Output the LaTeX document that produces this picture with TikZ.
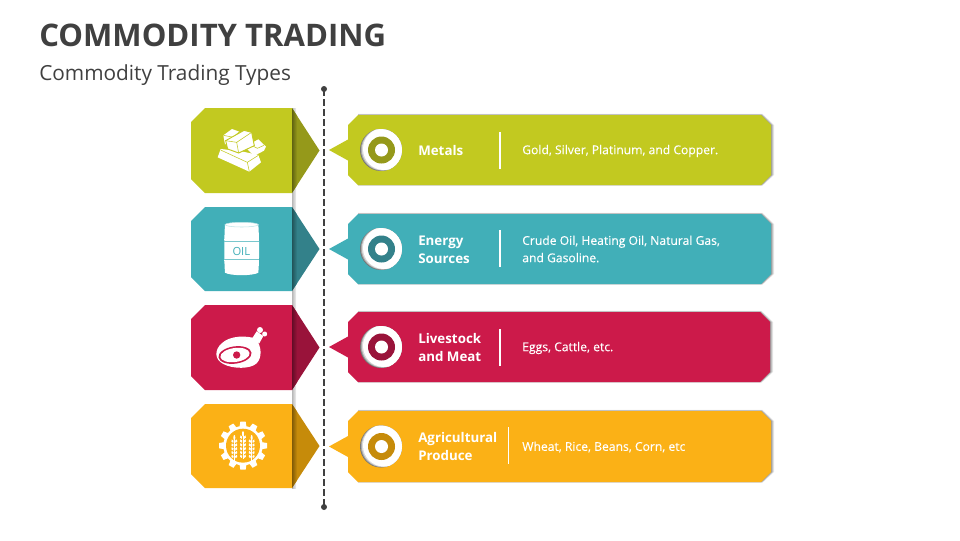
\documentclass[tikz,border=0pt]{standalone}
\usepackage{fontspec}
\setmainfont{Open Sans}
\newfontfamily\bodyfont[FakeBold=0.25]{Open Sans}
\definecolor{ink}{HTML}{404040}
\definecolor{cOlive}{HTML}{C2C920}\definecolor{dOlive}{HTML}{95991A}
\definecolor{cTeal}{HTML}{41AFB8}\definecolor{dTeal}{HTML}{33818A}
\definecolor{cRed}{HTML}{CC1A4A}\definecolor{dRed}{HTML}{99133A}
\definecolor{cOrange}{HTML}{FBB116}\definecolor{dOrange}{HTML}{C68B0A}
\tikzset{
  head/.style={anchor=west,inner sep=0pt,font=\fontsize{10}{13.7}\selectfont\bfseries,text=white,align=left},
  body/.style={anchor=west,inner sep=0pt,font=\bodyfont\fontsize{9.1}{13}\selectfont,text=white,align=left},
  divider/.style={white,line width=1.5pt*.75},
}
% args: left top, left bottom, right top, right bottom, right edge, colour, dark colour
\newcommand\RowShape[7]{%
  \pgfmathsetmacro\lm{(#1+#2)/2}\pgfmathsetmacro\rm{(#3+#4)/2}%
  \pgfmathsetmacro\lta{#1+14}\pgfmathsetmacro\lba{#2-14}%
  \pgfmathsetmacro\rta{#3+10}\pgfmathsetmacro\rba{#4-10}%
  \pgfmathsetmacro\pa{\rm-10.5}\pgfmathsetmacro\pb{\rm+10.5}%
  \pgfmathsetmacro\rx{#5-10}%
  % right box shadow
  \foreach \o/\p in {3/.10,2/.14,1/.18}{%
    \fill[black,opacity=\p] (358,#3-\o*.35) -- (\rx+\o*.5,#3-\o*.35) -- (#5+\o,\rta) -- (#5+\o,\rba) -- (\rx+\o*.5,#4+\o*.2) -- (358,#4+\o*.2) -- cycle;}%
  \fill[#6] (358,#3) -- (\rx,#3) -- (#5,\rta) -- (#5,\rba) -- (\rx,#4) -- (358,#4) -- (348,\rba) -- (348,\pb) -- (329,\rm) -- (348,\pa) -- (348,\rta) -- cycle;
  % left block
  \fill[#6] (205,#1) -- (292,#1) -- (292,#2) -- (205,#2) -- (191,\lba) -- (191,\lta) -- cycle;
  \begin{scope}
    \clip (292,#1) -- (319.5,\lm) -- (292,#2) -- cycle;
    \fill[#7] (292,#1) rectangle (320,#2);
    \shade[left color=#7!65!black,right color=#7] (292,#1) rectangle (297,#2);
  \end{scope}
  % round badge
  \begin{scope}
    \clip (381,\rm) circle (21);
    \fill[black!55] (381,\rm) circle (21);
    \fill[black!35] (381.8,\rm-.3) circle (21);
    \fill[black!15] (382.8,\rm-.6) circle (21);
    \fill[white] (384,\rm-1) circle (21);
  \end{scope}
  \fill[#7] (381.5,\rm) circle (13.5);
  \fill[white] (381.5,\rm) circle (6.5);
}
\begin{document}
\begin{tikzpicture}[x=.75pt,y=-.75pt]
\useasboundingbox (0,0) rectangle (960,540);
\fill[white] (0,0) rectangle (960,540);
\node[anchor=west,inner sep=0pt,text=ink,font=\fontsize{23.3}{28}\selectfont\bfseries] (title) at (39,35) {COMMODITY TRADING};
\node[anchor=west,inner sep=0pt,text=ink,font=\fontsize{15.6}{18}\selectfont] (subtitle) at (39,75) {Commodity Trading Types};
% shadow strip behind blocks
\shade[left color=black!28,right color=black!6] (292,108) rectangle (296,488);
% spine
\coordinate (spineTop) at (324,89);
\coordinate (spineBot) at (324,507);
\draw[ink,line width=1.5pt,dash pattern=on 4.9pt off 2.6pt] (spineTop) -- (spineBot);
\fill[ink] (spineTop) circle (3);
\fill[ink] (spineBot) circle (3);
\RowShape{108}{193}{115}{185}{771}{cOlive}{dOlive}
\RowShape{207}{291}{214}{284}{771}{cTeal}{dTeal}
\RowShape{305}{390}{312}{382}{770}{cRed}{dRed}
\RowShape{404}{488}{411}{482}{771}{cOrange}{dOrange}
% texts
\node[head] (h1) at (418,150.7) {Metals};
\node[head] (h2) at (418,249.5) {Energy\\Sources};
\node[head] (h3) at (418,347.5) {Livestock\\and Meat};
\node[head] (h4) at (418,446.5) {Agricultural\\Produce};
\node[body] (b1) at (522,151) {Gold, Silver, Platinum, and Copper.};
\node[body] (b2) at (522,249) {Crude Oil, Heating Oil, Natural Gas,\\and Gasoline.};
\node[body] (b3) at (522,348) {Eggs, Cattle, etc.};
\node[body] (b4) at (522,447) {Wheat, Rice, Beans, Corn, etc};
\draw[divider] (500,132) -- (500,169);
\draw[divider] (500,230) -- (500,267);
\draw[divider] (500,329) -- (500,366);
\draw[divider] (508.5,427) -- (508.5,464);
% gold bars icon
\begin{scope}[shift={(180,80)},scale=1/3]
  \fill[white] (130,166) -- (156,147) -- (178,155) -- (178,178) -- (135,193) -- cycle;
  \draw[cOlive,line width=.4pt] (130,166) -- (160,172) -- (178,155);
  \fill[white] (195,200) -- (235,178) -- (258,200) -- (252,212) -- (222,228) -- cycle;
  \draw[cOlive,line width=.4pt] (215,196) -- (232,205) -- (252,196);
  \fill[white] (122,207) -- (180,213) -- (235,225) -- (243,247) -- (208,275) -- (113,232) -- cycle;
  \draw[cOlive,line width=.4pt] (122,210) -- (202,247) -- (235,226) (202,247) -- (208,275);
  \draw[cOlive,line width=.7pt,fill=white] (137,182) -- (192,151) -- (215,157) -- (223,197) -- (176,219) -- (143,207) -- cycle;
  \draw[cOlive,line width=.4pt] (137,182) -- (170,187) -- (215,157) (170,187) -- (176,219);
\end{scope}
% oil barrel icon
\begin{scope}[shift={(180,200)},scale=1/3]
  \fill[white] (135,74) -- (235,74) .. controls (238,120) and (238,180) .. (235,218) .. controls (220,228) and (150,228) .. (135,218) .. controls (132,180) and (132,120) .. (135,74) -- cycle;
  \draw[cTeal!35!white,line width=.4pt,fill=white] (185,74) ellipse (50 and 7);
  \fill[white] (132,117) rectangle (238,120);
  \fill[white] (132,180) rectangle (238,183);
  \draw[cTeal!70!white,line width=.35pt] (133,123) -- (237,123) (133,178) -- (237,178);
  \node[inner sep=0pt,text=cTeal,font=\fontsize{8.4}{10}\selectfont] (oil) at (184,155) {OIL};
\end{scope}
% ham icon
\begin{scope}[shift={(180,300)},scale=1/3]
  \fill[white] (240,90) circle (9);
  \fill[white] (254,102) circle (7.5);
  \fill[white] (230,94) -- (250,108) -- (238,130) -- (216,116) -- cycle;
  \fill[white] (228,116) .. controls (200,106) and (150,106) .. (125,130) .. controls (103,150) and (103,178) .. (130,192) .. controls (160,208) and (212,207) .. (230,190) .. controls (247,172) and (245,140) .. (228,116) -- cycle;
  \fill[cRed,rotate around={8:(165,165)}] (165,165) ellipse (50 and 26);
  \fill[white,rotate around={8:(165,165)}] (165,165) ellipse (44 and 21);
  \fill[cRed] (170,165) circle (11);
\end{scope}
% wheat gear icon
\begin{scope}[shift={(180,398)},scale=1/3]
  \foreach \a in {0,30,...,330}{
    \fill[white,rotate around={\a:(189,143)}] (181,71) -- (197,71) -- (200,90) -- (178,90) -- cycle;}
  \fill[white] (189,143) circle (59);
  \fill[cOrange] (189,143) circle (51);
  \foreach \sx/\sy/\n in {163/118/5,189/106/6,215/118/5}{
    \fill[white] (\sx-.8,\sy) rectangle (\sx+.8,\sy+76);
    \fill[white] (\sx,\sy+1) ellipse (3 and 8);
    \foreach \i in {1,...,\n}{
      \fill[white,rotate around={22:(\sx-5.5,\sy+\i*11.5)}] (\sx-5.5,\sy+\i*11.5) ellipse (3.6 and 5.6);
      \fill[white,rotate around={-22:(\sx+5.5,\sy+\i*11.5)}] (\sx+5.5,\sy+\i*11.5) ellipse (3.6 and 5.6);
    }
  }
\end{scope}
\end{tikzpicture}
\end{document}
